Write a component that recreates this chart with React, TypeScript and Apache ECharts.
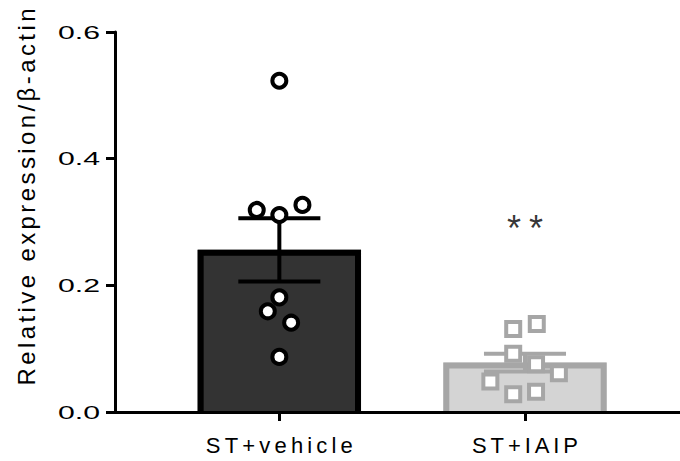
import React, { useEffect, useRef } from "react";
import * as echarts from "echarts";

// ---------- data ----------
const categories = ["ST+vehicle", "ST+IAIP"];
const barMeans = [0.256, 0.078];
const barSem = [0.05, 0.014];
const vehicleValues = [0.523, 0.319, 0.311, 0.327, 0.181, 0.159, 0.141, 0.087];
const vehicleJitter = [0, -0.092, 0, 0.094, 0, -0.047, 0.048, 0];
const iaipValues = [0.131, 0.139, 0.092, 0.0755, 0.061, 0.048, 0.028, 0.032];
const iaipJitter = [-0.048, 0.048, -0.048, 0.045, 0.138, -0.141, -0.048, 0.045];
const significance = ["", "**"];
const significanceHeight = [0, 0.29];
const yTitle = "Relative expression/β-actin";

// ---------- styles ----------
const FONT = "'Liberation Sans', Arial, sans-serif";
const BAR_WIDTH = 0.665; // in category units
const CAP_WIDTH = 0.334;
const barFill = ["#333333", "#d4d4d4"];
const barStroke = ["#000000", "#a6a6a6"];
// GraphPad exports widen text: target rendered widths (px) and how
const textWidening = (s: string): [number, string] | null => {
  if (/^\d\.\d$/.test(s)) return [42, "spacingAndGlyphs"];
  if (s === categories[0]) return [147, "spacing"];
  if (s === categories[1]) return [106, "spacing"];
  if (s === yTitle) return [377, "spacing"];
  if (s === "**") return [36, "spacing"];
  return null;
};

export default function App() {
  const ref = useRef<HTMLDivElement>(null);

  useEffect(() => {
    if (!ref.current) return;
    const chart = echarts.init(ref.current, undefined, { renderer: "svg" });

    const barData = barMeans.map((m, i) => [i, m]);
    const errData = barMeans.map((m, i) => [i, m, barSem[i]]);
    const vehData = vehicleValues.map((v, i) => [0 + vehicleJitter[i], v]);
    const iaipData = iaipValues.map((v, i) => [1 + iaipJitter[i], v]);
    const sigData = significance
      .map((s, i) => ({ value: [i, significanceHeight[i]], label: s }))
      .filter((d) => d.label !== "");

    chart.setOption({
      animation: false,
      textStyle: { fontFamily: FONT },
      grid: {
        left: 115,
        right: 0,
        top: 32,
        bottom: 49,
        containLabel: false,
        outerBoundsMode: "none",
      },
      xAxis: {
        type: "value",
        min: -0.669,
        max: 1.631,
        z: 10,
        splitLine: { show: false },
        axisLine: { show: true, onZero: false, lineStyle: { color: "#000", width: 3 } },
        axisTick: {
          show: true,
          customValues: [0, 1],
          length: 9,
          lineStyle: { color: "#000", width: 3 },
        },
        axisLabel: {
          show: true,
          customValues: [0, 1],
          formatter: (v: number) => categories[Math.round(v)] ?? "",
          fontSize: 22,
          color: "#000",
          margin: 22,
          fontFamily: FONT,
        },
      },
      yAxis: {
        type: "value",
        min: 0,
        max: 0.6,
        interval: 0.2,
        z: 10,
        splitLine: { show: false },
        axisLine: { show: true, onZero: false, lineStyle: { color: "#000", width: 3 } },
        axisTick: { show: true, length: 9, lineStyle: { color: "#000", width: 3 } },
        axisLabel: {
          formatter: (v: number) => v.toFixed(1),
          fontSize: 19,
          color: "#000",
          margin: 15,
          fontFamily: FONT,
        },
      },
      graphic: [
        {
          type: "text",
          x: 26,
          y: 197,
          rotation: Math.PI / 2,
          style: {
            text: yTitle,
            fontSize: 24,
            fontFamily: FONT,
            fill: "#000",
            align: "center",
            verticalAlign: "middle",
          },
        },
      ],
      series: [
        {
          type: "custom",
          name: "bars",
          z: 2,
          data: barData,
          renderItem: (params: any, api: any) => {
            const x = api.value(0);
            const v = api.value(1);
            const idx = params.dataIndex;
            const top = api.coord([x, v]);
            const base = api.coord([x, 0]);
            const w = api.size([BAR_WIDTH, 0])[0];
            const bw = 6;
            const left = top[0] - w / 2;
            const right = top[0] + w / 2;
            return {
              type: "group",
              children: [
                {
                  type: "rect",
                  shape: { x: left, y: top[1], width: w, height: base[1] - top[1] },
                  style: { fill: barFill[idx] },
                },
                {
                  type: "polyline",
                  shape: {
                    points: [
                      [left + bw / 2, base[1]],
                      [left + bw / 2, top[1] + bw / 2],
                      [right - bw / 2, top[1] + bw / 2],
                      [right - bw / 2, base[1]],
                    ],
                  },
                  style: {
                    stroke: barStroke[idx],
                    lineWidth: bw,
                    fill: null,
                    lineJoin: "miter",
                  },
                },
              ],
            };
          },
        },
        {
          type: "custom",
          name: "sem",
          z: 3,
          data: errData,
          renderItem: (params: any, api: any) => {
            const x = api.value(0);
            const m = api.value(1);
            const e = api.value(2);
            const idx = params.dataIndex;
            const hi = api.coord([x, m + e]);
            const lo = api.coord([x, m - e]);
            const half = api.size([CAP_WIDTH, 0])[0] / 2;
            const st = { stroke: barStroke[idx], lineWidth: 4 };
            return {
              type: "group",
              children: [
                { type: "line", shape: { x1: hi[0], y1: hi[1], x2: lo[0], y2: lo[1] }, style: st },
                { type: "line", shape: { x1: hi[0] - half, y1: hi[1], x2: hi[0] + half, y2: hi[1] }, style: st },
                { type: "line", shape: { x1: lo[0] - half, y1: lo[1], x2: lo[0] + half, y2: lo[1] }, style: st },
              ],
            };
          },
        },
        {
          type: "scatter",
          name: categories[0],
          z: 4,
          symbol: "circle",
          symbolSize: 14,
          data: vehData,
          itemStyle: { color: "#ffffff", borderColor: "#000000", borderWidth: 4, opacity: 1 },
        },
        {
          type: "scatter",
          name: categories[1],
          z: 4,
          symbol: "rect",
          symbolSize: 14,
          data: iaipData,
          itemStyle: { color: "#ffffff", borderColor: "#a6a6a6", borderWidth: 4, opacity: 1 },
        },
        {
          type: "scatter",
          name: "sig",
          z: 5,
          symbolSize: 0,
          data: sigData.map((d) => d.value),
          label: {
            show: true,
            position: "inside",
            formatter: (p: any) => significance[Math.round(p.value[0])],
            fontSize: 36,
            color: "#000",
            fontFamily: FONT,
          },
        },
      ],
    });

    // Widen texts like the GraphPad export does
    const texts = ref.current.querySelectorAll("text");
    texts.forEach((t) => {
      const s = (t.textContent || "").trim();
      const wd = textWidening(s);
      if (wd) {
        t.setAttribute("textLength", String(wd[0]));
        t.setAttribute("lengthAdjust", wd[1]);
      }
    });

    return () => chart.dispose();
  }, []);

  return (
    <div
      ref={ref}
      style={{ position: "fixed", left: 0, top: 0, width: 680, height: 461, background: "#fff" }}
    />
  );
}
